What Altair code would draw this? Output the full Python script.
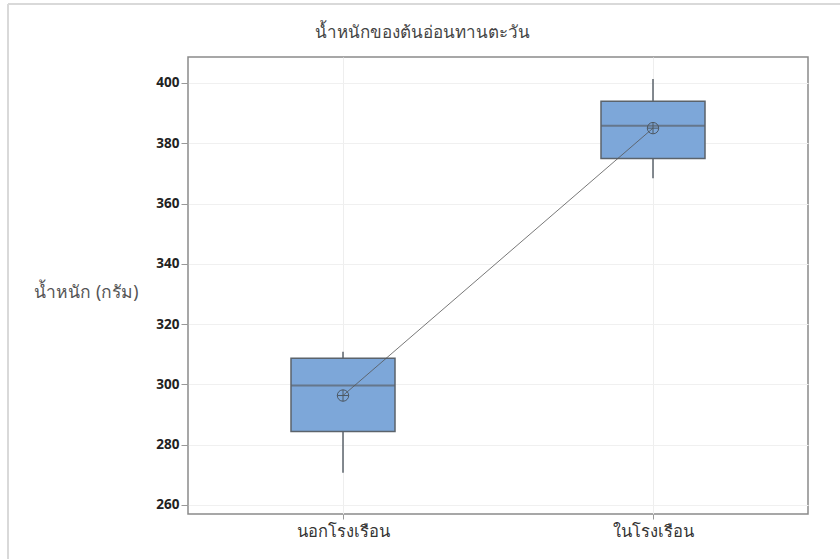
import altair as alt
import pandas as pd

# Weight of sunflower sprouts grown outside / inside a greenhouse
groups = ["นอกโรงเรือน", "ในโรงเรือน"]
whisker_low = [270.7, 368.4]
q1 = [284.4, 374.9]
median = [299.6, 385.8]
q3 = [308.7, 393.9]
whisker_high = [310.8, 401.3]
mean = [296.3, 385.0]
y_ticks = [260, 280, 300, 320, 340, 360, 380, 400]
chart_title = "น้ำหนักของต้นอ่อนทานตะวัน"

df = pd.DataFrame({
    "group": groups,
    "lo": whisker_low,
    "q1": q1,
    "med": median,
    "q3": q3,
    "hi": whisker_high,
    "mean": mean,
})

PLOT_W, PLOT_H = 620, 457
LEFT, TOP = 188, 57
BOX_W = 104
EDGE = "#5b636b"
THAI_FONT = "Tahoma, Noto Sans, sans-serif"

x_enc = alt.X(
    "group:N",
    sort=groups,
    scale=alt.Scale(type="point", padding=0.5),
    axis=alt.Axis(
        title=None, labelAngle=0, labelFont=THAI_FONT,
        labelFontSize=16.5, labelColor="#333333", labelPadding=4,
        tickSize=5, tickColor="#999999", domain=False,
        grid=True, gridColor="#eeeeee", gridWidth=1,
    ),
)
y_scale = alt.Scale(domain=[257, 408.6], nice=False, zero=False)
y_axis = alt.Axis(
    values=y_ticks, title="น้ำหนัก (กรัม)", titleAngle=0,
    titleAlign="center", titleBaseline="middle",
    titleX=86 - LEFT, titleY=292 - TOP,
    titleFont=THAI_FONT, titleFontSize=17.5,
    titleFontWeight="normal", titleColor="#555555",
    labelFont="Open Sans", labelFontSize=13.5, labelFontWeight="bold",
    labelColor="#222222", labelPadding=2,
    tickSize=7, tickColor="#999999", domain=False,
    grid=True, gridColor="#f0f0f0", gridWidth=1,
)

base = alt.Chart(df)

whisk_low = base.mark_rule(color=EDGE, strokeWidth=1.5).encode(
    x=x_enc, y=alt.Y("lo:Q", scale=y_scale, axis=y_axis), y2="q1:Q"
)
whisk_high = base.mark_rule(color=EDGE, strokeWidth=1.5).encode(
    x=alt.X("group:N", sort=groups), y=alt.Y("q3:Q"), y2="hi:Q"
)
box = base.mark_bar(
    size=BOX_W, color="#7da7d9", stroke=EDGE, strokeWidth=1.5
).encode(x=alt.X("group:N", sort=groups), y="q1:Q", y2="q3:Q")
med = base.mark_tick(
    size=BOX_W, thickness=2, color=EDGE, orient="horizontal"
).encode(x=alt.X("group:N", sort=groups), y="med:Q")
mean_line = base.mark_line(color="#555555", strokeWidth=0.8).encode(
    x=alt.X("group:N", sort=groups), y="mean:Q"
)
mean_pt = base.mark_point(
    shape="M-1,0A1,1,0,1,1,1,0A1,1,0,1,1,-1,0ZM-1,0L1,0M0,-1L0,1",
    size=130, filled=False, color="#4d5863", strokeWidth=1, opacity=1,
).encode(x=alt.X("group:N", sort=groups), y="mean:Q")

# chart title, centred on the whole figure
title = alt.Chart(pd.DataFrame({"t": [chart_title]})).mark_text(
    font=THAI_FONT, fontSize=17, color="#444444", align="center", baseline="middle"
).encode(text="t:N", x=alt.value(422 - LEFT), y=alt.value(33 - TOP))

# light figure border along the top and left edges
border_top = base.mark_rule(color="#d9d9d9", strokeWidth=2).encode(
    x=alt.value(8 - LEFT), x2=alt.value(840 - LEFT + 10), y=alt.value(4 - TOP)
)
border_left = base.mark_rule(color="#d9d9d9", strokeWidth=2).encode(
    x=alt.value(8 - LEFT), y=alt.value(4 - TOP), y2=alt.value(559 - TOP + 10)
)

chart = alt.layer(
    border_top, border_left, whisk_low, whisk_high, box, med, mean_line, mean_pt, title
).properties(
    width=PLOT_W,
    height=PLOT_H,
    autosize=alt.AutoSizeParams(type="none"),
    padding={"left": LEFT, "top": TOP, "right": 840 - LEFT - PLOT_W, "bottom": 559 - TOP - PLOT_H},
    background="white",
).configure_view(stroke="#8a8a8a", strokeWidth=1.5)

chart.save("out.html", embed_options={"renderer": "svg", "actions": False})
